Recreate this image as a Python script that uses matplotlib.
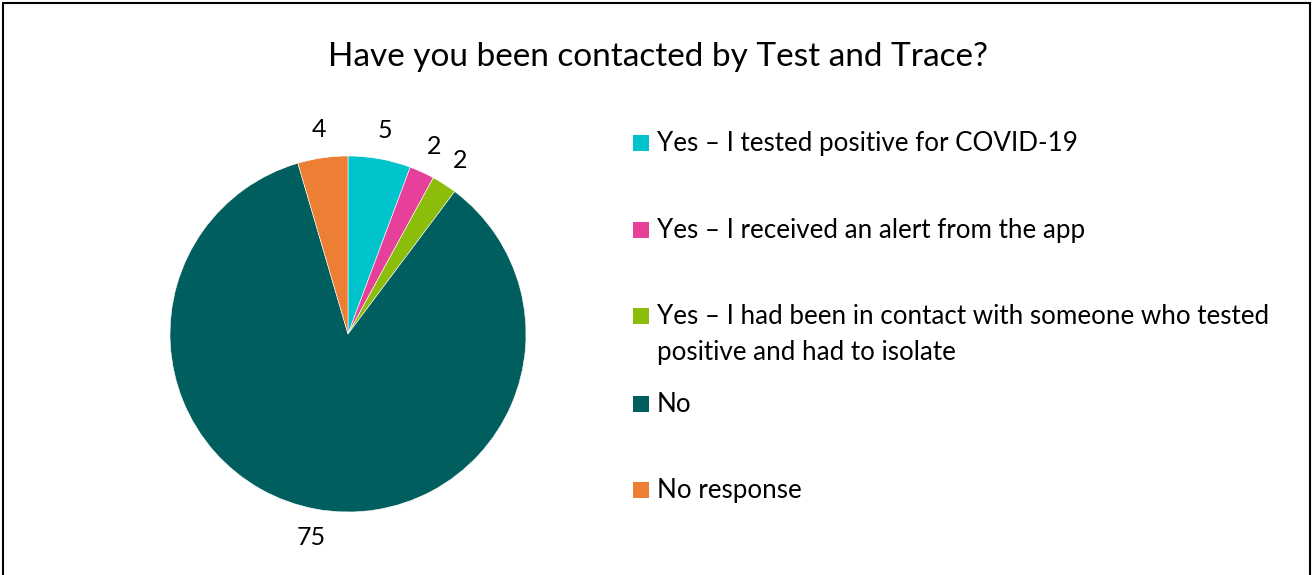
import matplotlib
matplotlib.use('agg')
import matplotlib.pyplot as plt
from matplotlib.patches import Rectangle

# ====== DATA ==========
answers = ["Yes – I tested positive for COVID-19",
           "Yes – I received an alert from the app",
           "Yes – I had been in contact with someone who tested\npositive and had to isolate",
           "No",
           "No response"]
counts = [5, 2, 2, 75, 4]
colours = ["#00C4CC", "#E6409A", "#8CBD0A", "#005E5E", "#EC7F34"]

plt.rcParams['font.family'] = ['Lato', 'DejaVu Sans']

W, H = 1315, 575
fig = plt.figure(figsize=(W / 100, H / 100), dpi=100)
fig.patch.set_facecolor('white')

# outer frame (bottom edge falls outside the picture)
fig.patches.append(Rectangle((3 / W, -0.01), 1307 / W, 1.01 - 3 / H, transform=fig.transFigure,
                             fill=False, edgecolor='black', linewidth=1.5))

fig.text(658 / W, 1 - 57 / H, "Have you been contacted by Test and Trace?",
         ha='center', va='center', fontsize=24)

# pie axes (pixel box of the circle)
ax = fig.add_axes([170 / W, 1 - 512 / H, 356 / W, 356 / H])
wedges, texts = ax.pie(counts, colors=colours, startangle=90, counterclock=False,
                       labels=[str(c) for c in counts], labeldistance=1.16,
                       wedgeprops=dict(linewidth=0.4, edgecolor='white'),
                       textprops=dict(fontsize=18))
for t in texts:
    t.set_horizontalalignment('center')
    t.set_verticalalignment('center')
ax.set_xlim(-1, 1)
ax.set_ylim(-1, 1)
ax.set_aspect('equal')
ax.axis('off')

# legend, drawn by hand so the marker sits on the first line
leg_y = [143, 230, 316, 404, 490]
for lab, col, y in zip(answers, colours, leg_y):
    fig.patches.append(Rectangle((633 / W, 1 - (y + 8) / H), 16 / W, 16 / H,
                                 transform=fig.transFigure, facecolor=col, edgecolor='none'))
    fig.text(657 / W, 1 - (y - 12) / H, lab, ha='left', va='top', fontsize=18.7,
             linespacing=1.55)

fig.savefig("out.png", dpi=100)
